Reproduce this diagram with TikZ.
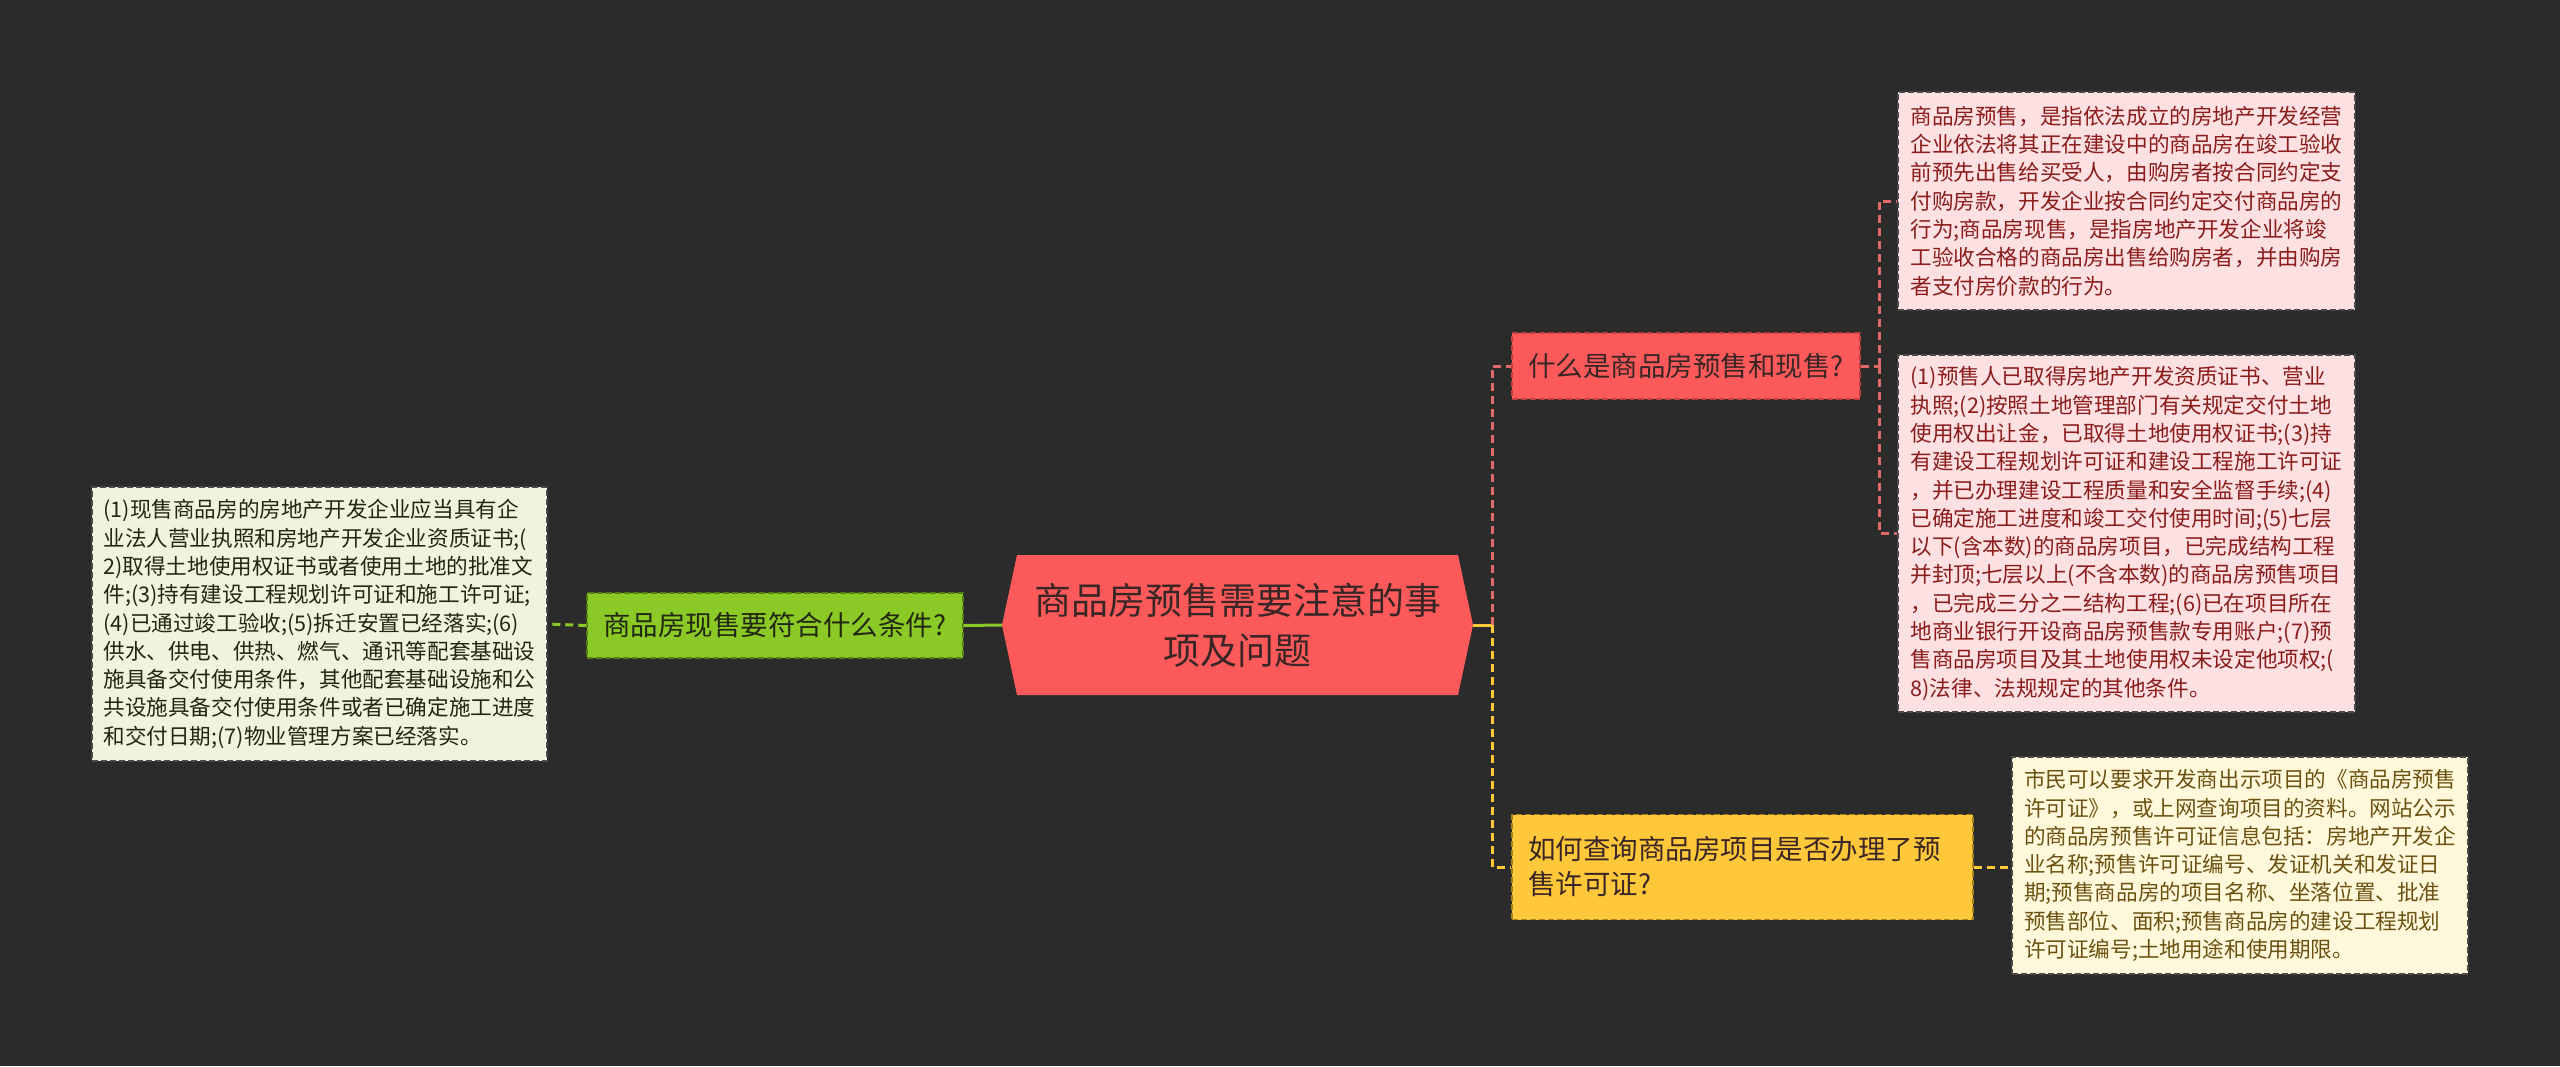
\documentclass[tikz,border=0pt]{standalone}
\usepackage{fontspec}
\setmainfont{Noto Sans CJK SC}
\usetikzlibrary{calc}
\definecolor{bgc}{HTML}{2B2B2B}
\definecolor{rootred}{HTML}{FC5A5A}
\definecolor{roottext}{HTML}{3A2626}
\definecolor{midred}{HTML}{FC5A5A}
\definecolor{midredborder}{HTML}{C23E3E}
\definecolor{midgreen}{HTML}{8BC927}
\definecolor{midgreenborder}{HTML}{557F14}
\definecolor{midyellow}{HTML}{FFC83A}
\definecolor{midyellowborder}{HTML}{A8821C}
\definecolor{leafpink}{HTML}{FDE1E2}
\definecolor{leafpinktext}{HTML}{8A1C1C}
\definecolor{leafgreen}{HTML}{EEF5DC}
\definecolor{leafgreentext}{HTML}{22280F}
\definecolor{leafcream}{HTML}{FFF8DB}
\definecolor{leafcreamtext}{HTML}{6B5212}
\definecolor{leafborder}{HTML}{4A4A4A}
\definecolor{linered}{HTML}{E06A6A}
\definecolor{linegreen}{HTML}{8BC927}
\definecolor{lineyellow}{HTML}{FFC83A}
\tikzset{
  midnode/.style={rectangle, draw, line width=1.5pt, dash pattern=on 6pt off 3pt,
    inner sep=0pt, font=\fontsize{27.5pt}{35pt}\selectfont},
  leafnode/.style={rectangle, draw=leafborder, line width=1.5pt, dash pattern=on 6pt off 3pt,
    inner sep=0pt, align=left, font=\fontsize{21.6pt}{28.3pt}\selectfont},
  conn/.style={line width=3pt, dash pattern=on 8pt off 5pt},
  connsolid/.style={line width=3pt}
}
\begin{document}
\begin{tikzpicture}[x=1pt,y=-1pt]
\fill[bgc] (0,0) rectangle (2560,1066);
\useasboundingbox (0,0) rectangle (2560,1066);

% root shape
\fill[rootred] (1017,555) -- (1458,555) -- (1473,625) -- (1458,695) -- (1017,695) -- (1002,625) -- cycle;
\node[align=center, text=roottext, font=\fontsize{37pt}{50pt}\selectfont, inner sep=0pt] (root) at (1237.5,625)
  {商品房预售需要注意的事\\项及问题};
\coordinate (rootL) at (1002,625);
\coordinate (rootR) at (1473,625);

% mid nodes
\node[midnode, fill=midred, draw=midredborder, text=roottext, minimum width=348pt, minimum height=66pt] (red) at (1686,366)
  {什么是商品房预售和现售?};
\node[midnode, fill=midyellow, draw=midyellowborder, text=roottext, minimum width=461pt, minimum height=105pt,
      inner xsep=16pt, text width=429pt, align=left] (yel) at (1742.5,867)
  {如何查询商品房项目是否办理了预\\售许可证?};
\node[midnode, fill=midgreen, draw=midgreenborder, text=leafgreentext, minimum width=376pt, minimum height=65pt] (grn) at (775,625.5)
  {商品房现售要符合什么条件?};

% leaves
\node[leafnode, fill=leafpink, text=leafpinktext, minimum width=457pt, minimum height=218pt] (leafA) at (2126.5,201)
  {商品房预售，是指依法成立的房地产开发经营\\
   企业依法将其正在建设中的商品房在竣工验收\\
   前预先出售给买受人，由购房者按合同约定支\\
   付购房款，开发企业按合同约定交付商品房的\\
   行为;商品房现售，是指房地产开发企业将竣\\
   工验收合格的商品房出售给购房者，并由购房\\
   者支付房价款的行为。};
\node[leafnode, fill=leafpink, text=leafpinktext, minimum width=457pt, minimum height=357pt] (leafB) at (2126.5,533.5)
  {(1)预售人已取得房地产开发资质证书、营业\\
   执照;(2)按照土地管理部门有关规定交付土地\\
   使用权出让金，已取得土地使用权证书;(3)持\\
   有建设工程规划许可证和建设工程施工许可证\\
   ，并已办理建设工程质量和安全监督手续;(4)\\
   已确定施工进度和竣工交付使用时间;(5)七层\\
   以下(含本数)的商品房项目，已完成结构工程\\
   并封顶;七层以上(不含本数)的商品房预售项目\\
   ，已完成三分之二结构工程;(6)已在项目所在\\
   地商业银行开设商品房预售款专用账户;(7)预\\
   售商品房项目及其土地使用权未设定他项权;(\\
   8)法律、法规规定的其他条件。};
\node[leafnode, fill=leafcream, text=leafcreamtext, minimum width=456pt, minimum height=217pt] (leafC) at (2240,865.5)
  {市民可以要求开发商出示项目的《商品房预售\\
   许可证》，或上网查询项目的资料。网站公示\\
   的商品房预售许可证信息包括：房地产开发企\\
   业名称;预售许可证编号、发证机关和发证日\\
   期;预售商品房的项目名称、坐落位置、批准\\
   预售部位、面积;预售商品房的建设工程规划\\
   许可证编号;土地用途和使用期限。};
\node[leafnode, fill=leafgreen, text=leafgreentext, minimum width=455pt, minimum height=274pt] (leafL) at (319.5,624)
  {(1)现售商品房的房地产开发企业应当具有企\\
   业法人营业执照和房地产开发企业资质证书;(\\
   2)取得土地使用权证书或者使用土地的批准文\\
   件;(3)持有建设工程规划许可证和施工许可证;\\
   (4)已通过竣工验收;(5)拆迁安置已经落实;(6)\\
   供水、供电、供热、燃气、通讯等配套基础设\\
   施具备交付使用条件，其他配套基础设施和公\\
   共设施具备交付使用条件或者已确定施工进度\\
   和交付日期;(7)物业管理方案已经落实。};

% connectors
\coordinate (hub) at (1492,625);
\coordinate (hubR) at (1879,366);
\draw[connsolid, linegreen] (rootL) -- (grn.east);
\draw[conn, linegreen] (grn.west) -- (leafL.east);
\draw[conn, linered] (hub) |- (red.west);
\draw[conn, lineyellow] (hub) |- (yel.west);
\draw[connsolid, lineyellow] (rootR) -- (hub);
\draw[conn, linered] (red.east) -- (hubR);
\draw[conn, linered] (hubR) |- (leafA.west);
\draw[conn, linered] (hubR) |- (leafB.west);
\draw[conn, lineyellow] (yel.east) -- (yel.east -| leafC.west);
\end{tikzpicture}
\end{document}
